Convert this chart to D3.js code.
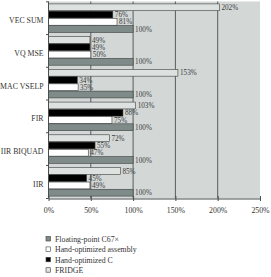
<!DOCTYPE html>
<html><head><meta charset="utf-8">
<script src="https://cdn.jsdelivr.net/npm/d3@7"></script>
<style>html,body{margin:0;padding:0;background:#fff;}svg{display:block;}
svg text{font-family:"Liberation Serif","DejaVu Serif",serif;}</style>
</head><body>
<svg id="c" width="271" height="277"></svg>
<script>
const categories = ["VEC SUM","VQ MSE","MAC VSELP","FIR","IIR BIQUAD","IIR"];
const fridge   = [202, 49, 153, 103, 72, 85];
const handC    = [76, 49, 34, 88, 55, 45];
const handAsm  = [81, 50, 35, 75, 47, 49];
const floatC67 = [100, 100, 100, 100, 100, 100];
const xTicks = [0, 50, 100, 150, 200, 250];
const seriesNames = ["FRIDGE","Hand-optimized C","Hand-optimized assembly","Floating-point C67\u00d7"];
const legendNames = ["Floating-point C67\u00d7","Hand-optimized assembly","Hand-optimized C","FRIDGE"];

const colors = {"FRIDGE":"#dde1e0","Hand-optimized C":"#000000","Hand-optimized assembly":"#ffffff","Floating-point C67\u00d7":"#7f8b89"};
const seriesVals = {"FRIDGE":fridge,"Hand-optimized C":handC,"Hand-optimized assembly":handAsm,"Floating-point C67\u00d7":floatC67};

const svg = d3.select("#c");
const L = 48.5, R = 260, T = 1.5, B = 198.5;

const x = d3.scaleLinear().domain([0,250]).range([L,R]);
const y0 = d3.scaleBand().domain(categories).range([T,B]).paddingInner(0.1).paddingOuter(0.06);
const y1 = d3.scaleBand().domain(seriesNames).range([0,y0.bandwidth()]).padding(0.06);

svg.append("rect").attr("x",L).attr("y",T).attr("width",R-L).attr("height",B-T).attr("fill","#d3d8d7");

svg.append("g").selectAll("line").data(xTicks.filter(d=>d>0&&d<250)).join("line")
  .attr("x1",d=>x(d)).attr("x2",d=>x(d)).attr("y1",T).attr("y2",B)
  .attr("stroke","#4a4f4e").attr("stroke-width",0.9);

const rows = [];
categories.forEach((c,i)=>seriesNames.forEach(s=>rows.push({c,s,v:seriesVals[s][i]})));
const g = svg.append("g");
g.selectAll("rect").data(rows).join("rect")
  .attr("x",x(0)).attr("y",d=>y0(d.c)+y1(d.s))
  .attr("width",d=>x(d.v)-x(0)).attr("height",y1.bandwidth())
  .attr("fill",d=>colors[d.s]).attr("stroke","#3c3f3e").attr("stroke-width",0.6);

g.selectAll("text").data(rows).join("text")
  .attr("x",d=>x(d.v)+2).attr("y",d=>y0(d.c)+y1(d.s)+y1.bandwidth()/2+2.6)
  .attr("font-size",7.2).attr("fill","#3a3a3a")
  .text(d=>d.v+"%");

const xa = svg.append("g").attr("transform",`translate(0,${B})`)
  .call(d3.axisBottom(x).tickValues(xTicks).tickFormat(d=>d+"%").tickSizeInner(2.5).tickSizeOuter(0));
xa.attr("font-family",null);
xa.select(".domain").attr("stroke","#4a4f4e");
xa.selectAll(".tick line").attr("stroke","#4a4f4e").attr("y1",-2.5);
xa.selectAll("text").attr("font-size",7.8).attr("fill","#333").attr("dy","1.15em");

svg.append("line").attr("x1",L).attr("x2",L).attr("y1",T).attr("y2",B).attr("stroke","#4a4f4e").attr("stroke-width",1);
const bounds = categories.map(c=>y0(c)-y0.step()*y0.paddingInner()/2).concat([B]);
svg.append("g").selectAll("line").data(bounds).join("line")
  .attr("x1",L-2.5).attr("x2",L).attr("y1",d=>d).attr("y2",d=>d).attr("stroke","#4a4f4e");
svg.append("g").selectAll("text").data(categories).join("text")
  .attr("x",43.5).attr("y",d=>y0(d)+y0.bandwidth()/2+5)
  .attr("text-anchor","end").attr("font-size",7.8).attr("fill","#333")
  .text(d=>d);

const lg = svg.append("g");
legendNames.forEach((n,i)=>{
  const yy = 240 + i*10.4;
  lg.append("rect").attr("x",46).attr("y",yy-3.5).attr("width",4.5).attr("height",4.5)
    .attr("fill",colors[n]).attr("stroke","#3c3f3e").attr("stroke-width",0.6);
  lg.append("text").attr("x",55).attr("y",yy+1.8).attr("font-size",7.8).attr("fill","#333").text(n);
});
</script>
</body></html>
